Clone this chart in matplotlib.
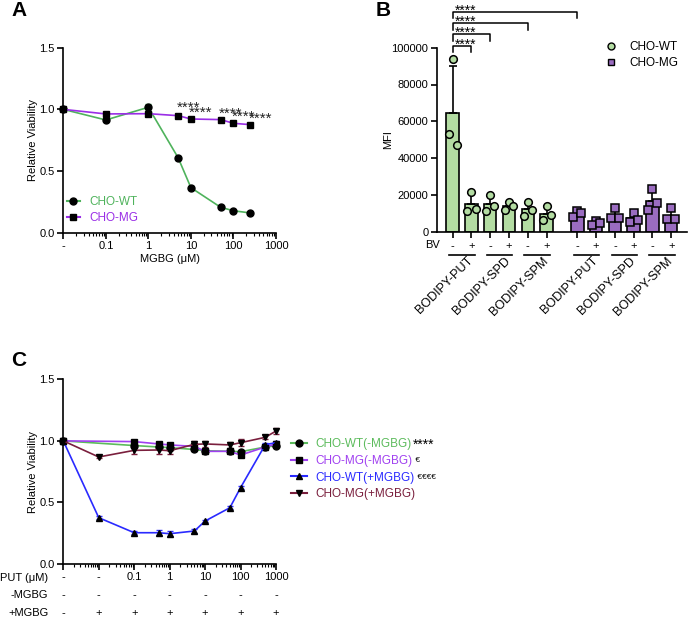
import numpy as np
import matplotlib
matplotlib.use("Agg")
import matplotlib.pyplot as plt
from matplotlib.lines import Line2D
from matplotlib.ticker import LogLocator, NullFormatter

plt.rcParams['font.family'] = ['Liberation Sans', 'DejaVu Sans']
plt.rcParams['font.size'] = 8

# ---------------- data ----------------
# Panel A: viability vs MGBG
a_x = [0.01, 0.1, 1, 5, 10, 50, 100, 250]
a_wt = [1.0, 0.914, 1.017, 0.608, 0.365, 0.206, 0.178, 0.16]
a_wt_err = [0.005, 0.008, 0.025, 0.015, 0.01, 0.008, 0.006, 0.006]
a_mg = [1.0, 0.963, 0.965, 0.949, 0.922, 0.917, 0.887, 0.876]
a_mg_err = [0.005, 0.008, 0.01, 0.008, 0.008, 0.008, 0.008, 0.008]
a_sig = [5, 10, 50, 100, 250]
a_ticks = [0.01, 0.1, 1, 10, 100, 1000]
a_ticklabels = ['-', '0.1', '1', '10', '100', '1000']

# Panel B: BODIPY uptake (MFI), three replicates per bar
b_groups = ['BODIPY-PUT', 'BODIPY-SPD', 'BODIPY-SPM']
b_bv = ['-', '+']
b_wt_pts = [[93900, 52900, 47000], [21700, 11400, 12300],
            [19800, 11300, 14200], [16000, 11800, 14100],
            [16000, 8700, 11800], [14100, 6200, 8900]]
b_mg_pts = [[11400, 7800, 10000], [6000, 3600, 4550],
            [12700, 7600, 7600], [10000, 5450, 6350],
            [23000, 11800, 15800], [12700, 6700, 6700]]
b_brackets = [1, 2, 4, 6]          # compared against bar 0
b_bracket_y = [100900, 107300, 113300, 119400]

# Panel C: viability vs putrescine with/without MGBG
c_x_minus = [0.001, 0.1, 0.5, 1, 5, 10, 50, 100, 500, 1000]
c_x_plus = [0.001, 0.01, 0.1, 0.5, 1, 5, 10, 50, 100, 500, 1000]
c_wt_minus = [1.0, 0.962, 0.95, 0.945, 0.93, 0.92, 0.915, 0.912, 0.95, 0.96]
c_wt_minus_err = [0.005, 0.01, 0.01, 0.01, 0.01, 0.01, 0.01, 0.01, 0.01, 0.01]
c_mg_minus = [1.0, 0.994, 0.975, 0.967, 0.955, 0.915, 0.915, 0.885, 0.95, 0.975]
c_mg_minus_err = [0.005, 0.015, 0.015, 0.015, 0.015, 0.01, 0.01, 0.015, 0.01, 0.01]
c_wt_plus = [1.0, 0.376, 0.254, 0.254, 0.246, 0.268, 0.349, 0.457, 0.62, 0.97, 0.985]
c_wt_plus_err = [0.005, 0.01, 0.01, 0.02, 0.02, 0.02, 0.01, 0.01, 0.01, 0.01, 0.01]
c_mg_plus = [1.0, 0.869, 0.923, 0.926, 0.92, 0.972, 0.975, 0.967, 0.985, 1.029, 1.08]
c_mg_plus_err = [0.005, 0.01, 0.03, 0.03, 0.03, 0.025, 0.025, 0.025, 0.03, 0.015, 0.025]
c_ticks = [0.001, 0.01, 0.1, 1, 10, 100, 1000]
c_put_labels = ['-', '-', '0.1', '1', '10', '100', '1000']
c_minus_row = ['-', '-', '-', '-', '-', '-', '-']
c_plus_row = ['-', '+', '+', '+', '+', '+', '+']

# colours
GREEN = '#4fb35c'
PURPLE = '#9a2ee6'
BAR_GREEN = '#b3dca2'
BAR_PURPLE = '#9a6cc0'
C_GREEN = '#5cbb5c'
C_PURPLE = '#a040f0'
C_BLUE = '#2a2aff'
C_MAROON = '#7a1f3d'

W, H = 688, 619
fig = plt.figure(figsize=(W / 100, H / 100), dpi=100)


def box(l, t, r, b):
    return [l / W, 1 - b / H, (r - l) / W, (b - t) / H]


def fpos(x, y):
    return (x / W, 1 - y / H)


def style(ax):
    for s in ['top', 'right']:
        ax.spines[s].set_visible(False)
    for s in ['left', 'bottom']:
        ax.spines[s].set_linewidth(1.2)
    ax.tick_params(which='major', length=4, width=1.2, labelsize=8, pad=2)
    ax.tick_params(which='minor', length=2, width=0.8)


def log_axis(ax, lo, hi, ticks, labels):
    ax.set_xscale('log')
    ax.set_xlim(lo, hi)
    ax.set_xticks(ticks)
    ax.set_xticklabels(labels)
    ax.xaxis.set_minor_locator(LogLocator(base=10, subs=np.arange(2, 10)))
    ax.xaxis.set_minor_formatter(NullFormatter())
    ax.set_ylim(0, 1.5)
    ax.set_yticks([0, 0.5, 1.0, 1.5])
    ax.set_ylabel('Relative Viability', fontsize=8, labelpad=1)


# ---------------- Panel A ----------------
axA = fig.add_axes(box(63.3, 47.7, 276, 232.7))
style(axA)
log_axis(axA, 0.01, 1000, a_ticks, a_ticklabels)
axA.set_xlabel('MGBG (\u03bcM)', fontsize=8, labelpad=2)
axA.errorbar(a_x, a_wt, yerr=a_wt_err, color=GREEN, lw=1.2, marker='o', ms=5,
             mfc='k', mec='k', capsize=2, ecolor=GREEN, clip_on=False, zorder=3)
axA.errorbar(a_x, a_mg, yerr=a_mg_err, color=PURPLE, lw=1.2, marker='s', ms=5,
             mfc='k', mec='k', capsize=2, ecolor=PURPLE, clip_on=False, zorder=3)
for k, xv in enumerate(a_sig):
    yv = a_mg[a_x.index(xv)]
    axA.annotate('****', (xv, yv), xytext=(-1.2, 1.5 + (1.5 if k == 0 else 0)),
                 textcoords='offset points', ha='left', va='baseline',
                 fontsize=11, color='#222222')
fig.legend([Line2D([], [], color=GREEN, marker='o', mfc='k', mec='k', ms=5),
            Line2D([], [], color=PURPLE, marker='s', mfc='k', mec='k', ms=5)],
           ['CHO-WT', 'CHO-MG'], loc='upper left', frameon=False,
           fontsize=8.5, handlelength=1.13, handletextpad=0.79,
           labelspacing=0.33, borderpad=0, borderaxespad=0,
           labelcolor=[GREEN, PURPLE], bbox_to_anchor=fpos(66.7, 196.3))

# ---------------- Panel B ----------------
axB = fig.add_axes(box(436.7, 47.7, 686.7, 231.7))
style(axB)
pos = [float(i) for i in range(6)] + [6.63 + i for i in range(6)]
all_pts = b_wt_pts + b_mg_pts
offs = [0.0, -0.22, 0.22]
for i, (p, pts) in enumerate(zip(pos, all_pts)):
    wt = i < 6
    fc = BAR_GREEN if wt else BAR_PURPLE
    m = np.mean(pts)
    sd = np.std(pts, ddof=1)
    axB.bar(p, m, width=0.66, color=fc, edgecolor='k', lw=1.2, zorder=2)
    axB.errorbar(p, m, yerr=[[0], [sd]], color='k', lw=1.2, capsize=3,
                 capthick=1.2, zorder=3)
    for o, v in zip(offs, pts):
        axB.plot(p + o, v, marker='o' if wt else 's', ms=5.5, mfc=fc, mec='k',
                 mew=1.1, ls='', zorder=4, clip_on=False)
axB.set_xlim(-0.85, 12.45)
axB.set_ylim(0, 100000)
axB.set_yticks(range(0, 100001, 20000))
axB.set_yticklabels([str(v) for v in range(0, 100001, 20000)])
axB.set_xticks(pos)
axB.set_xticklabels(b_bv * 6)
axB.tick_params(axis='x', pad=3)
axB.set_ylabel('MFI', fontsize=8, labelpad=-1)
fig.text(*fpos(432.5, 245), 'BV', fontsize=8, ha='center', va='center')

xt = axB.get_xaxis_transform()
for g in range(6):
    x0, x1 = pos[2 * g], pos[2 * g + 1]
    axB.plot([x0 - 0.18, x1 + 0.18], [-0.127, -0.127], color='k', lw=1.2,
             transform=xt, clip_on=False)
    axB.text((x0 + x1) / 2 + 0.25, -0.125, b_groups[g % 3], rotation=45,
             rotation_mode='anchor', ha='right', va='top', fontsize=9,
             transform=xt)

for j, yb in zip(b_brackets, b_bracket_y):
    drop = 3500
    axB.plot([pos[0], pos[0], pos[j], pos[j]], [yb - drop, yb, yb, yb - drop],
             color='k', lw=1.1, clip_on=False)
    axB.text(pos[0] + 0.12, yb - 1500, '****', fontsize=10, ha='left',
             va='baseline', clip_on=False)

fig.legend([Line2D([], [], marker='o', ls='', mfc=BAR_GREEN, mec='k', ms=5),
            Line2D([], [], marker='s', ls='', mfc=BAR_PURPLE, mec='k', ms=5)],
           ['CHO-WT', 'CHO-MG'], loc='upper left', frameon=False, fontsize=8.5,
           handlelength=1.0, handletextpad=1.0, labelspacing=0.3,
           borderpad=0, borderaxespad=0, bbox_to_anchor=fpos(605.5, 41.5))

# ---------------- Panel C ----------------
axC = fig.add_axes(box(63.3, 379.3, 276, 564))
style(axC)
log_axis(axC, 0.001, 1000, c_ticks, c_put_labels)
series = [(c_x_minus, c_wt_minus, c_wt_minus_err, C_GREEN, 'o', 'CHO-WT(-MGBG)'),
          (c_x_minus, c_mg_minus, c_mg_minus_err, C_PURPLE, 's', 'CHO-MG(-MGBG)'),
          (c_x_plus, c_wt_plus, c_wt_plus_err, C_BLUE, '^', 'CHO-WT(+MGBG)'),
          (c_x_plus, c_mg_plus, c_mg_plus_err, C_MAROON, 'v', 'CHO-MG(+MGBG)')]
handles = []
for xs, ys, es, col, mk, lab in series:
    axC.errorbar(xs, ys, yerr=es, color=col, lw=1.2, marker=mk, ms=5, mfc='k',
                 mec='k', ecolor=col, capsize=2, clip_on=False, zorder=3)
    handles.append(Line2D([], [], color=col, marker=mk, mfc='k', mec='k', ms=5))
legC = fig.legend(handles, [s[5] for s in series], loc='upper left',
                  frameon=False, fontsize=8.5, handlelength=1.36,
                  handletextpad=0.68, labelspacing=0.39, borderpad=0,
                  borderaxespad=0, labelcolor=[s[3] for s in series],
                  bbox_to_anchor=fpos(291, 438.3))

ctr = axC.get_xaxis_transform()
for xv, a, b in zip(c_ticks, c_minus_row, c_plus_row):
    axC.text(xv, -0.17, a, ha='center', va='center', fontsize=8, transform=ctr)
    axC.text(xv, -0.267, b, ha='center', va='center', fontsize=8, transform=ctr)
for txt, yy in [('PUT (\u03bcM)', -0.074), ('-MGBG', -0.17), ('+MGBG', -0.267)]:
    axC.text(-0.07, yy, txt, ha='right', va='center', fontsize=8,
             transform=axC.transAxes)

# suffixes after the legend entries of panel C
fig.canvas.draw()
rend = fig.canvas.get_renderer()
for t, suf, fs in zip(legC.get_texts(),
                      ['****', ' \u20ac', ' \u20ac\u20ac\u20ac\u20ac'],
                      [10, 6, 6]):
    bb = t.get_window_extent(rend)
    fig.text((bb.x1 + 1) / W, (bb.y0 + bb.y1) / 2 / H, suf,
             fontsize=fs, ha='left', va='center')

# panel letters
for lab, x, y in [('A', 19.5, 11), ('B', 383, 10), ('C', 19, 360.7)]:
    fig.text(*fpos(x, y), lab, fontsize=15, fontweight='bold',
             ha='center', va='center')

fig.savefig('out.png', dpi=100)
